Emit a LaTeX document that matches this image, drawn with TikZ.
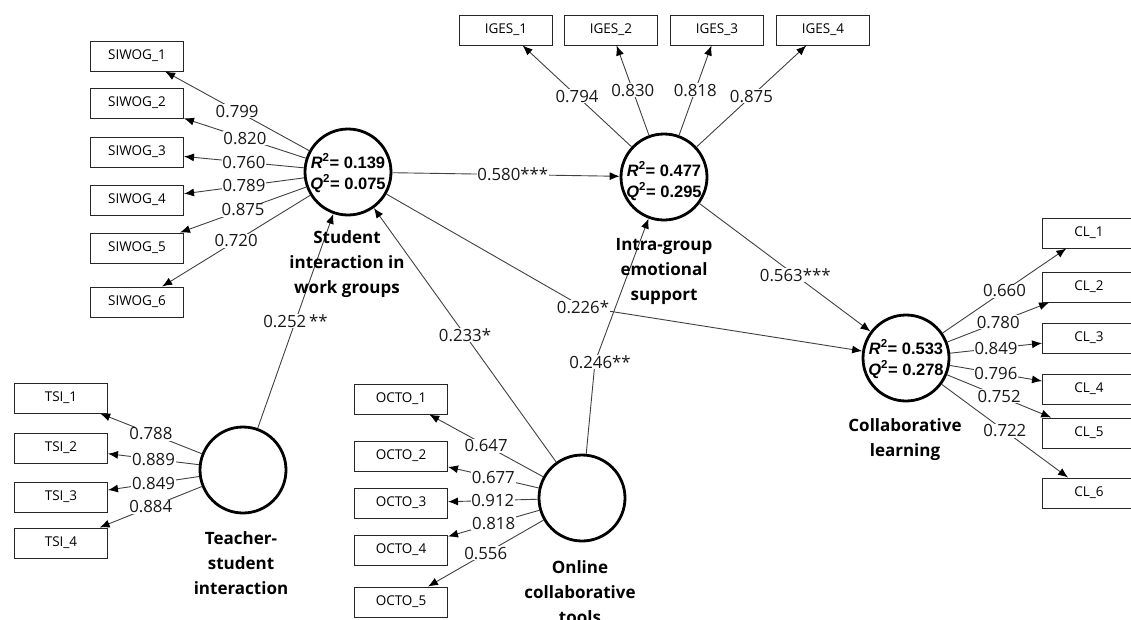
\documentclass[tikz,border=0pt]{standalone}
\usepackage{fontspec}
\setmainfont{Open Sans}
\newfontfamily\rfont{Liberation Sans}
\usetikzlibrary{arrows.meta}
\begin{document}
\begin{tikzpicture}[x=1pt,y=-1pt,
  lv/.style={circle,draw=black,line width=2.8pt,minimum size=86pt,inner sep=0pt},
  ind/.style={draw=black!85,line width=1pt,minimum width=93pt,minimum height=30pt,inner sep=0pt,font=\fontsize{13.5}{14}\selectfont},
  lnk/.style={draw=black!75,line width=0.9pt,-{Latex[length=10pt,width=8pt,color=black]}},
  val/.style={fill=white,inner sep=0.8pt,font=\fontsize{16.8}{18}\selectfont,text=black!90},
  ttl/.style={align=center,font=\bfseries\fontsize{17}{25}\selectfont},
  rq/.style={font=\rfont\bfseries\fontsize{16.5}{21}\selectfont,align=center}
]
\path[use as bounding box] (0,0) rectangle (1131,619);
\clip (0,0) rectangle (1131,619);

% latent variables
\node[lv] (S) at (348,172) {};
\node[lv] (I) at (664,177) {};
\node[lv] (C) at (906,358) {};
\node[lv] (T) at (243,470) {};
\node[lv] (O) at (582,498) {};

% indicators
\foreach \i/\y in {1/56,2/103,3/152,4/200,5/248,6/302}
  \node[ind] (s\i) at (137,\y) {SIWOG\_\i};
\foreach \i/\x in {1/506,2/611,3/717,4/823}
  \node[ind] (g\i) at (\x,30) {IGES\_\i};
\foreach \i/\y in {1/233,2/287,3/338,4/389,5/433,6/493}
  \node[ind] (c\i) at (1089,\y) {CL\_\i};
\foreach \i/\y in {1/398,2/448,3/497,4/543}
  \node[ind] (t\i) at (61,\y) {TSI\_\i};
\foreach \i/\y in {1/399,2/456,3/503,4/550,5/602}
  \node[ind] (o\i) at (401,\y) {OCTO\_\i};

% loadings
\foreach \i/\v in {1/0.799,2/0.820,3/0.760,4/0.789,5/0.875,6/0.720}
  \draw[lnk] (S) -- node[val]{\v} (s\i);
\foreach \i/\v in {1/0.794,2/0.830,3/0.818,4/0.875}
  \draw[lnk] (I) -- node[val]{\v} (g\i);
\foreach \i/\v in {1/0.660,2/0.780,3/0.849,4/0.796,5/0.752,6/0.722}
  \draw[lnk] (C) -- node[val]{\v} (c\i);
\foreach \i/\v in {1/0.788,2/0.889,3/0.849,4/0.884}
  \draw[lnk] (T) -- node[val]{\v} (t\i);
\foreach \i/\v in {1/0.647,2/0.677,3/0.912,4/0.818,5/0.556}
  \draw[lnk] (O) -- node[val]{\v} (o\i);

% structural paths
\coordinate (b1) at (583,307);
\coordinate (b2) at (595,362);
\draw[lnk] (S) -- node[val,pos=0.53]{0.580***} (I);
\draw[lnk] (T) -- node[val]{0.252\,**} (S);
\draw[lnk] (O) -- node[val]{0.233*} (S);
\draw[lnk] (I) -- node[val,pos=0.56]{0.563***} (C);
\draw[lnk] (S) -- (b1) -- (C);
\node[val] (l226) at (b1) {0.226*};
\draw[lnk] (O) -- (b2) -- (I);
\node[val] (l246) at ([xshift=5pt]b2) {0.246**};

% R2 / Q2
\node[rq] at (348,173) {\textit{R}\textsuperscript{2}= 0.139\\\textit{Q}\textsuperscript{2}= 0.075};
\node[rq] at (664,181) {\textit{R}\textsuperscript{2}= 0.477\\\textit{Q}\textsuperscript{2}= 0.295};
\node[rq] at (906,359) {\textit{R}\textsuperscript{2}= 0.533\\\textit{Q}\textsuperscript{2}= 0.278};

% titles
\node[ttl] (tS) at (347,264) {Student\\interaction in\\work groups};
\node[ttl] (tI) at (664,271) {Intra-group\\emotional\\support};
\node[ttl] (tC) at (905,440) {Collaborative\\learning};
\node[ttl] (tT) at (241,563) {Teacher-\\student\\interaction};
\node[ttl] (tO) at (580,592) {Online\\collaborative\\tools};
\end{tikzpicture}
\end{document}
